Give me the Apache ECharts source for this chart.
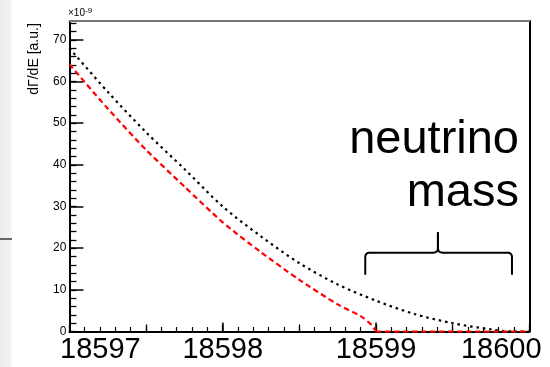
<!DOCTYPE html>
<html><head><meta charset="utf-8">
<script src="https://cdn.jsdelivr.net/npm/echarts@6/dist/echarts.min.js"></script>
<style>html,body{margin:0;padding:0;background:#fff}#c{width:550px;height:367px}</style>
</head><body><div id="c"></div>
<script>
// ---- data ----
const energyBlack = [18597.0, 18597.25, 18597.5, 18597.75, 18598.0, 18598.25, 18598.5, 18598.75, 18599.0, 18599.25, 18599.5, 18599.75, 18599.9, 18600.0];
const rateBlack   = [68.0, 57.5, 47.8, 39.0, 30.0, 22.8, 16.4, 11.3, 7.4, 4.2, 2.0, 0.5, 0.0, 0.0];
const energyRed   = [18597.0, 18597.25, 18597.5, 18597.75, 18598.0, 18598.25, 18598.5, 18598.75, 18598.9, 18598.97, 18599.0, 18600.0];
const rateRed     = [64.1, 53.5, 43.6, 34.8, 26.2, 19.0, 12.4, 6.5, 3.7, 1.6, 0.0, 0.0];
const xTickLabels = [18597, 18598, 18599, 18600];
const yTickLabels = [0, 10, 20, 30, 40, 50, 60, 70];
const yMinorTicks = [0,2,4,6,8,10,12,14,16,18,20,22,24,26,28,30,32,34,36,38,40,42,44,46,48,50,52,54,56,58,60,62,64,66,68,70,72,74];
const yTitle = 'dΓ/dE [a.u.]';
const annotationLines = ['neutrino', 'mass'];
// bracket annotation in data units: left, middle, right energies; bottom, bar, peak heights
const braceX = [18598.93, 18599.404, 18599.887];
const braceY = [13.6, 18.9, 23.8];

const FONT = '"Liberation Sans", Arial, Helvetica, sans-serif';
const chart = echarts.init(document.getElementById('c'), null, {renderer: 'canvas'});

const xMin = xTickLabels[0], xMax = xTickLabels[xTickLabels.length - 1];
const yMax = 74.5;
const nRedCurve = energyRed.length - 1; // curve ends where the flat zero tail begins

const option = {
  animation: false,
  backgroundColor: '#fff',
  grid: {left: 69.4, right: 20.7, top: 21, bottom: 35.5, outerBoundsMode: 'none', containLabel: false},
  xAxis: [
    {
      type: 'value', position: 'bottom', min: xMin, max: xMax, interval: 1,
      axisLine: {show: true, onZero: false, lineStyle: {color: '#000', width: 2}},
      axisTick: {show: true, inside: true, length: 9, lineStyle: {color: '#000', width: 1.5}},
      minorTick: {show: true, splitNumber: 10, length: 4.5, lineStyle: {color: '#000', width: 1.2}},
      splitLine: {show: false}, minorSplitLine: {show: false},
      axisLabel: {
        fontSize: 29, margin: 4, color: '#000', fontFamily: FONT,
        formatter: function (v) {
          if (v === xTickLabels[0]) return '{first|' + v + '}';
          if (v === xTickLabels[xTickLabels.length - 1]) return '{last|' + v + '}';
          return String(v);
        },
        rich: {
          first: {fontSize: 29, fontFamily: FONT, color: '#000', padding: [0, 0, 0, 62]},
          last: {fontSize: 29, fontFamily: FONT, color: '#000', padding: [0, 56, 0, 0]}
        }
      }
    },
    {
      type: 'value', position: 'bottom', min: xMin, max: xMax, interval: 0.5,
      axisLine: {show: false, onZero: false},
      axisTick: {show: true, inside: true, length: 7, lineStyle: {color: '#000', width: 1.3}},
      axisLabel: {show: false}, splitLine: {show: false}
    },
    {
      type: 'value', position: 'top', min: xMin, max: xMax,
      axisLine: {show: true, onZero: false, lineStyle: {color: '#777', width: 2}},
      axisTick: {show: false}, axisLabel: {show: false}, splitLine: {show: false}
    }
  ],
  yAxis: [
    {
      type: 'value', position: 'left', min: 0, max: yMax, interval: 10,
      axisLine: {show: true, onZero: false, lineStyle: {color: '#000', width: 2}},
      axisTick: {show: true, inside: true, length: 14, customValues: yTickLabels, lineStyle: {color: '#000', width: 1.5}},
      axisLabel: {fontSize: 12, margin: 3, color: '#000', fontFamily: FONT, customValues: yTickLabels},
      splitLine: {show: false}
    },
    {
      type: 'value', position: 'left', min: 0, max: yMax,
      axisLine: {show: false, onZero: false},
      axisTick: {show: true, inside: true, length: 7, customValues: yMinorTicks, lineStyle: {color: '#000', width: 1.3}},
      axisLabel: {show: false}, splitLine: {show: false}
    },
    {
      type: 'value', position: 'right', min: 0, max: yMax,
      axisLine: {show: true, onZero: false, lineStyle: {color: '#000', width: 2}},
      axisTick: {show: false}, axisLabel: {show: false}, splitLine: {show: false}
    }
  ],
  series: [
    {
      type: 'line', name: 'massless', xAxisIndex: 0, yAxisIndex: 0,
      data: energyBlack.map((x, i) => [x, rateBlack[i]]),
      showSymbol: false, smooth: 0.3, clip: false, z: 3,
      lineStyle: {color: '#000', width: 2.2, type: [2.5, 3.9]}
    },
    {
      type: 'line', name: 'massive', xAxisIndex: 0, yAxisIndex: 0,
      data: energyRed.slice(0, nRedCurve).map((x, i) => [x, rateRed[i]]),
      showSymbol: false, smooth: 0.25, clip: false, z: 4,
      lineStyle: {color: '#ff0000', width: 2.2, type: [5.5, 3.5]}
    },
    {
      type: 'line', name: 'massive tail', xAxisIndex: 0, yAxisIndex: 0,
      data: energyRed.slice(nRedCurve - 1).map((x, i) => [x, rateRed[nRedCurve - 1 + i]]),
      showSymbol: false, smooth: false, clip: false, z: 4,
      lineStyle: {color: '#ff0000', width: 2.2, type: [5.5, 3.5]}
    }
  ],
  graphic: {elements: [
    {id: 'strip', type: 'rect', x: 0, y: 0, z: -1, shape: {width: 12, height: 367},
     style: {fill: new echarts.graphic.LinearGradient(0, 0, 1, 0, [{offset: 0, color: '#ededed'}, {offset: 0.85, color: '#f3f3f3'}, {offset: 1, color: '#fcfcfc'}])}},
    {id: 'stripline', type: 'rect', x: 0, y: 238, shape: {width: 12, height: 2}, style: {fill: '#666'}},
    {id: 'exp', type: 'text', x: 68, y: 20, style: {
      text: '×10{s|-9}', fontSize: 10, fontFamily: FONT, fill: '#000', textAlign: 'left', align: 'left', textVerticalAlign: 'bottom', verticalAlign: 'bottom',
      rich: {s: {fontSize: 8, fontFamily: FONT, fill: '#000', color: '#000', verticalAlign: 'top', padding: [0, 0, 5, 0]}}
    }},
    {id: 'ytitle', type: 'text', x: 34, y: 59, rotation: Math.PI / 2, style: {
      text: yTitle, fontSize: 14, fontFamily: FONT, fill: '#000', textAlign: 'center', align: 'center', textVerticalAlign: 'middle', verticalAlign: 'middle'
    }},
    {id: 'note1', type: 'text', x: 519, y: 140, style: {
      text: annotationLines[0], fontSize: 47, fontFamily: FONT, fill: '#000', textAlign: 'right', align: 'right', textVerticalAlign: 'middle', verticalAlign: 'middle'
    }},
    {id: 'note2', type: 'text', x: 519, y: 193, style: {
      text: annotationLines[1], fontSize: 47, fontFamily: FONT, fill: '#000', textAlign: 'right', align: 'right', textVerticalAlign: 'middle', verticalAlign: 'middle'
    }}
  ]}
};
chart.setOption(option);

// curly bracket placed through the axis scales
const P = (x, y) => chart.convertToPixel({xAxisIndex: 0, yAxisIndex: 0}, [x, y]);
const pl = P(braceX[0], braceY[0]), pm = P(braceX[1], braceY[2]), pr = P(braceX[2], braceY[0]);
const yH = P(braceX[1], braceY[1])[1];
const xL = pl[0], xM = pm[0], xR = pr[0], yB = pl[1], yP = pm[1];
function quad(p0, c, p1, n) {
  const out = [];
  for (let k = 1; k <= n; k++) {
    const t = k / n, u = 1 - t;
    out.push([u * u * p0[0] + 2 * u * t * c[0] + t * t * p1[0], u * u * p0[1] + 2 * u * t * c[1] + t * t * p1[1]]);
  }
  return out;
}
const r = 4.5, rm = 5;
let leftPts = [[xL, yB], [xL, yH + r]];
leftPts = leftPts.concat(quad([xL, yH + r], [xL, yH], [xL + r, yH], 6));
leftPts.push([xM - rm, yH]);
leftPts = leftPts.concat(quad([xM - rm, yH], [xM, yH], [xM, yH - rm], 6));
leftPts.push([xM, yP]);
let rightPts = [[xR, yB], [xR, yH + r]];
rightPts = rightPts.concat(quad([xR, yH + r], [xR, yH], [xR - r, yH], 6));
rightPts.push([xM + rm, yH]);
rightPts = rightPts.concat(quad([xM + rm, yH], [xM, yH], [xM, yH - rm], 6));
rightPts.push([xM, yP]);
chart.setOption({graphic: {elements: [
  {id: 'braceL', type: 'polyline', shape: {points: leftPts}, style: {stroke: '#000', lineWidth: 2, fill: null}},
  {id: 'braceR', type: 'polyline', shape: {points: rightPts}, style: {stroke: '#000', lineWidth: 2, fill: null}}
]}});
</script>
</body></html>
